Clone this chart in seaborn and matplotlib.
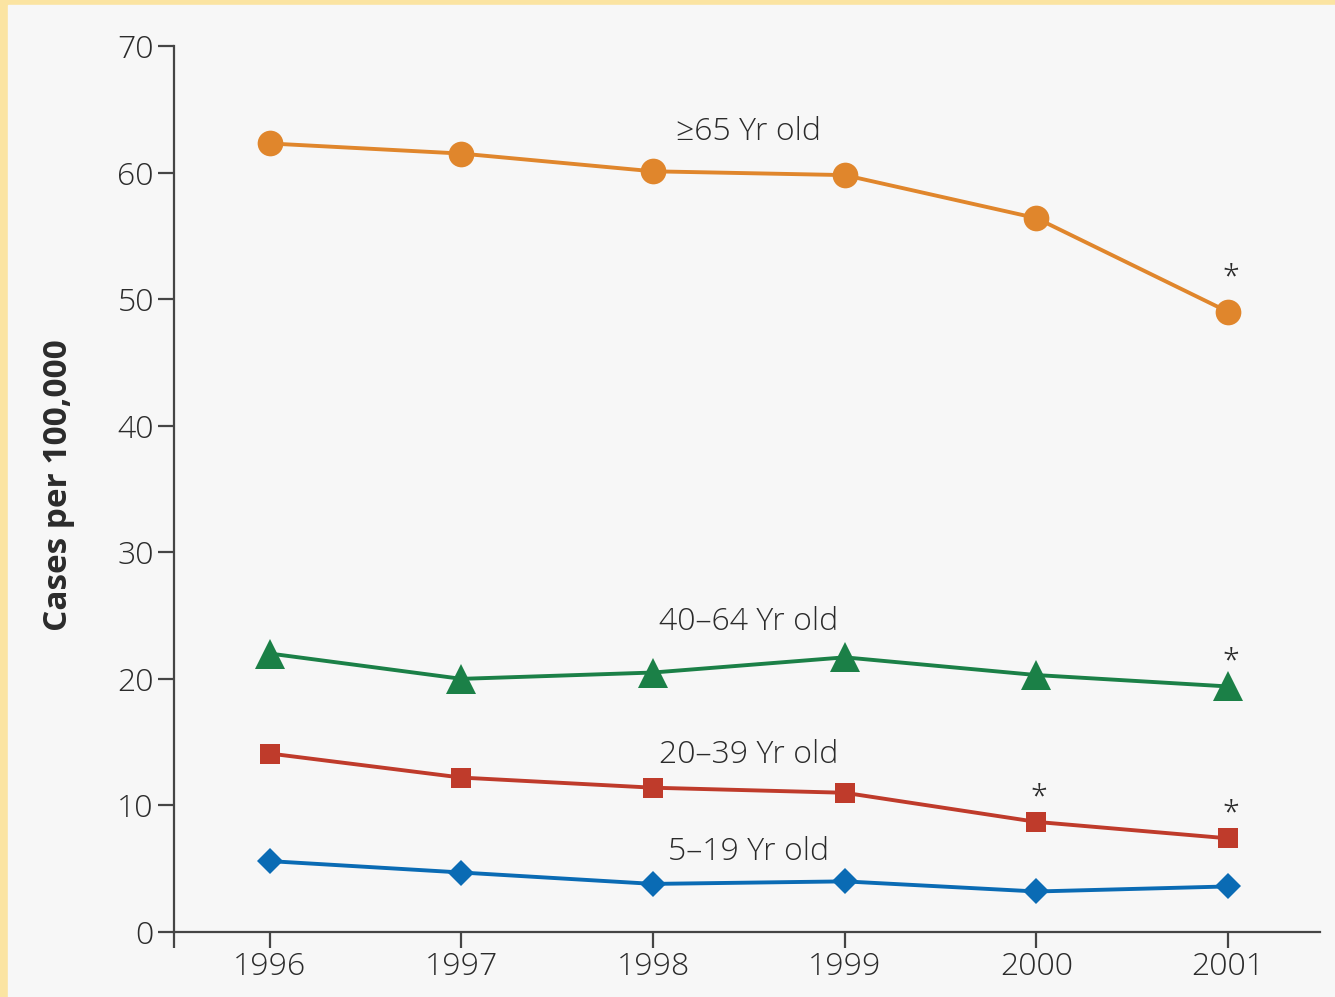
import pandas as pd
import matplotlib
matplotlib.use('Agg')
import matplotlib.pyplot as plt
import seaborn as sns

# ── DATA ───────────────────────────────────────────────
years = [1996, 1997, 1998, 1999, 2000, 2001]
age_groups = ['≥65 Yr old', '40–64 Yr old', '20–39 Yr old', '5–19 Yr old']

rate_65_plus = [62.3, 61.5, 60.1, 59.8, 56.4, 49.0]
rate_40_64 = [22.0, 20.0, 20.5, 21.7, 20.3, 19.4]
rate_20_39 = [14.1, 12.2, 11.4, 11.0, 8.7, 7.4]
rate_5_19 = [5.6, 4.7, 3.8, 4.0, 3.2, 3.6]

# years with a significant change (marked with *)
significant = {
    '≥65 Yr old': [2001],
    '40–64 Yr old': [2001],
    '20–39 Yr old': [2000, 2001],
    '5–19 Yr old': [],
}

y_ticks = [0, 10, 20, 30, 40, 50, 60, 70]

rates = [rate_65_plus, rate_40_64, rate_20_39, rate_5_19]
df = pd.DataFrame(
    [(g, yr, v) for g, vals in zip(age_groups, rates) for yr, v in zip(years, vals)],
    columns=['group', 'year', 'rate'],
)

# ── STYLE ──────────────────────────────────────────────
sns.set_style('ticks')
plt.rcParams['font.family'] = ['Open Sans', 'DejaVu Sans']

colors = {'≥65 Yr old': '#E0862C', '40–64 Yr old': '#1B8047',
          '20–39 Yr old': '#BF3B2B', '5–19 Yr old': '#0A6BB4'}
markers = {'≥65 Yr old': 'o', '40–64 Yr old': '^',
           '20–39 Yr old': 's', '5–19 Yr old': 'D'}
msizes = {'≥65 Yr old': 18.5, '40–64 Yr old': 21,
          '20–39 Yr old': 14.5, '5–19 Yr old': 13.5}
# label anchor (x, y) in data units, and asterisk offset in points
label_pos = {'≥65 Yr old': (1998.5, 63.2), '40–64 Yr old': (1998.5, 24.5),
             '20–39 Yr old': (1998.5, 14.0), '5–19 Yr old': (1998.5, 6.3)}
star_off = {'≥65 Yr old': 24, '40–64 Yr old': 17,
            '20–39 Yr old': 17, '5–19 Yr old': 17}

text_col = '#2b2b2b'
axis_col = '#454545'
font_w = 'light'

fig = plt.figure(figsize=(13.35, 9.97), dpi=100)
fig.patch.set_facecolor('#fbe4a2')
fig.patches.append(plt.Rectangle((8 / 1335, 0), 1, 1 - 5 / 997,
                                 transform=fig.transFigure, color='#f7f7f7', zorder=-5))

ax = fig.add_axes([174 / 1335, 65 / 997, 1146 / 1335, 886 / 997])
ax.set_facecolor('none')
ax.set_zorder(2)

# ── LINES ──────────────────────────────────────────────
for g in age_groups:
    sub = df[df['group'] == g]
    sns.lineplot(data=sub, x='year', y='rate', ax=ax, color=colors[g],
                 marker=markers[g], markersize=msizes[g], markeredgewidth=0,
                 linewidth=2.8, legend=False, clip_on=False, zorder=3)
    ax.text(*label_pos[g], g, ha='center', va='center', fontsize=23,
            fontweight=font_w, color=text_col)
    for yr in significant[g]:
        val = sub.loc[sub['year'] == yr, 'rate'].iloc[0]
        ax.annotate('*', (yr, val), xytext=(2, star_off[g]), textcoords='offset points',
                    ha='center', va='center', fontsize=22, fontweight=font_w,
                    color=text_col)

# ── AXES ───────────────────────────────────────────────
ax.set_xlim(1995.5, 2001.48)
ax.set_ylim(0, 70)
ax.set_xticks(years)
ax.set_xticklabels([str(y) for y in years], fontweight=font_w)
ax.set_xticks([1995.5], minor=True)
ax.set_yticks(y_ticks)
ax.set_yticklabels([str(v) for v in y_ticks], fontweight=font_w)
ax.set_xlabel('')
ax.set_ylabel('')

for side in ['top', 'right']:
    ax.spines[side].set_visible(False)
for side in ['left', 'bottom']:
    ax.spines[side].set_color(axis_col)
    ax.spines[side].set_linewidth(1.6)

ax.tick_params(axis='y', direction='out', length=11.5, width=1.6, color=axis_col,
               labelsize=23, labelcolor=text_col, pad=3)
ax.tick_params(axis='x', which='both', direction='out', length=11.5, width=1.6,
               color=axis_col, labelsize=23, labelcolor=text_col, pad=2)

fig.text(59 / 1335, 1 - 485 / 997, 'Cases per 100,000', rotation=90,
         ha='center', va='center', fontsize=24, fontweight='bold', color=text_col,
         zorder=3)

plt.savefig('out.png', dpi=100, facecolor=fig.get_facecolor())
